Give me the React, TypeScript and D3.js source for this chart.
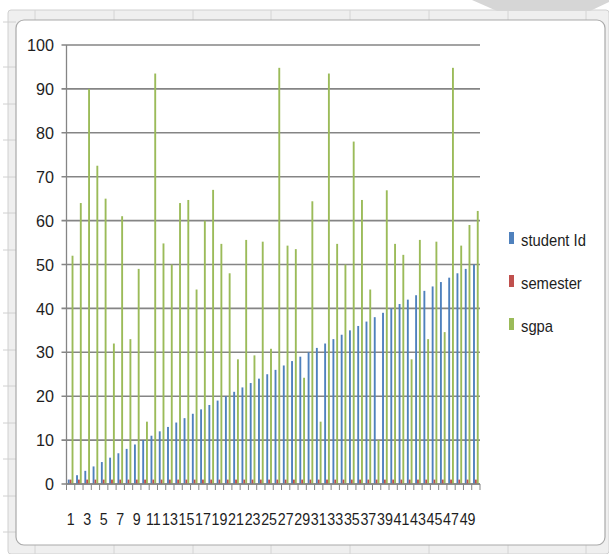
import React from "react";
import * as d3 from "d3";

const categories: number[] = Array.from({ length: 50 }, (_, i) => i + 1);
const seriesNames = ["student Id", "semester", "sgpa"];
const seriesColors = ["#4f81bd", "#c0504d", "#9bbb59"];

const studentId: number[] = [
  1, 2, 3, 4, 5, 6, 7, 8, 9, 10, 11, 12, 13, 14, 15, 16, 17, 18, 19, 20, 21, 22, 23, 24, 25,
  26, 27, 28, 29, 30, 31, 32, 33, 34, 35, 36, 37, 38, 39, 40, 41, 42, 43, 44, 45, 46, 47, 48, 49, 50,
];
const semester: number[] = Array.from({ length: 50 }, () => 1);
const sgpa: number[] = [
  52, 64, 90, 72.5, 65, 32, 61, 33, 49, 14.2, 93.5, 54.8, 50, 64, 64.7, 44.3, 60, 67, 54.7, 48,
  28.4, 55.6, 29.3, 55.2, 30.8, 94.8, 54.3, 53.5, 24.2, 64.4, 14.2, 93.5, 54.7, 50, 78, 64.7, 44.3,
  10, 66.9, 54.7, 52.2, 28.4, 55.6, 33, 55.2, 34.6, 94.8, 54.3, 59, 62.2,
];
const yTicks: number[] = [0, 10, 20, 30, 40, 50, 60, 70, 80, 90, 100];

const W = 609;
const H = 554;
const FONT = "'Liberation Sans', Arial, sans-serif";

export default function App() {
  const left = 66.5;
  const right = 480;
  const top = 45;
  const bottom = 484;

  const x0 = d3.scaleBand<number>().domain(categories).range([left, right]).paddingInner(0).paddingOuter(0);
  const x1 = d3
    .scaleBand<string>()
    .domain(seriesNames)
    .range([0, x0.bandwidth()])
    .paddingInner(0)
    .paddingOuter(0.7);
  const y = d3.scaleLinear().domain([0, 100]).range([bottom, top]);

  const seriesData = [studentId, semester, sgpa];

  const topSeps = [35, 114, 193, 271, 350, 429, 508, 586];
  const leftSeps = [22, 67, 104, 140, 177, 213, 250, 313, 350, 386, 423, 459, 496, 532];

  return (
    <svg
      width={W}
      height={H}
      style={{ position: "absolute", left: 0, top: 0, background: "#fff" }}
      xmlns="http://www.w3.org/2000/svg"
    >
      <rect x={0} y={0} width={W} height={H} fill="#ffffff" />
      {/* Excel-like frame */}
      <rect x={8} y={10} width={W - 8} height={H - 10} fill="#efefef" stroke="#d0d0d0" rx={3} />
      {topSeps.map((sx) => (
        <line key={"ts" + sx} x1={sx} x2={sx} y1={10} y2={20} stroke="#d4d4d4" />
      ))}
      {topSeps.map((sx) => (
        <line key={"bs" + sx} x1={sx} x2={sx} y1={545} y2={554} stroke="#d4d4d4" />
      ))}
      {leftSeps.map((sy) => (
        <line key={"ls" + sy} x1={3} x2={16} y1={sy} y2={sy} stroke="#d0d0d0" />
      ))}
      <polygon points="472,0 609,0 609,2 590,11 497,11" fill="#d6d6d6" />
      {/* chart area */}
      <rect x={16} y={20} width={589} height={525} rx={8} fill="#ffffff" stroke="#a9a9a9" strokeWidth={1.2} />

      {/* gridlines */}
      {yTicks.map((t) => (
        <line
          key={"g" + t}
          x1={left - 5}
          x2={right}
          y1={y(t)}
          y2={y(t)}
          stroke="#858585"
          strokeWidth={1.6}
        />
      ))}
      {/* y axis */}
      <line x1={left} x2={left} y1={top} y2={bottom} stroke="#858585" strokeWidth={1.3} />
      {yTicks.map((t) => (
        <text
          key={"yl" + t}
          transform={`translate(54,${y(t)}) scale(0.95,1)`}
          dy="0.36em"
          textAnchor="end"
          fontFamily={FONT}
          fontSize={17}
          fill="#1e1e1e"
        >
          {t}
        </text>
      ))}

      {/* bars */}
      {seriesData.map((vals, si) =>
        categories.map((c, i) => {
          const v = vals[i];
          const bx = (x0(c) as number) + (x1(seriesNames[si]) as number);
          return (
            <rect
              key={"b" + si + "-" + i}
              x={bx}
              y={y(v)}
              width={x1.bandwidth()}
              height={y(0) - y(v)}
              fill={seriesColors[si]}
            />
          );
        })
      )}

      {/* x axis */}
      <line x1={left} x2={right} y1={bottom} y2={bottom} stroke="#858585" strokeWidth={1.3} />
      {[...categories, 51].map((c, i) => {
        const tx = left + i * x0.step();
        return <line key={"xt" + i} x1={tx} x2={tx} y1={bottom} y2={bottom + 6} stroke="#858585" strokeWidth={1} />;
      })}
      {categories
        .filter((c) => c % 2 === 1)
        .map((c) => (
          <text
            key={"xl" + c}
            transform={`translate(${(x0(c) as number) + x0.bandwidth() / 2},525) scale(0.84,1)`}
            textAnchor="middle"
            fontFamily={FONT}
            fontSize={17}
            fill="#1e1e1e"
          >
            {c}
          </text>
        ))}

      {/* legend */}
      {seriesNames.map((s, i) => (
        <g key={"lg" + s}>
          <rect x={509} y={232 + i * 43} width={5} height={12} fill={seriesColors[i]} />
          <text
            transform={`translate(521,${246 + i * 43}) scale(0.87,1)`}
            fontFamily={FONT}
            fontSize={17}
            fill="#1e1e1e"
          >
            {s}
          </text>
        </g>
      ))}
    </svg>
  );
}
